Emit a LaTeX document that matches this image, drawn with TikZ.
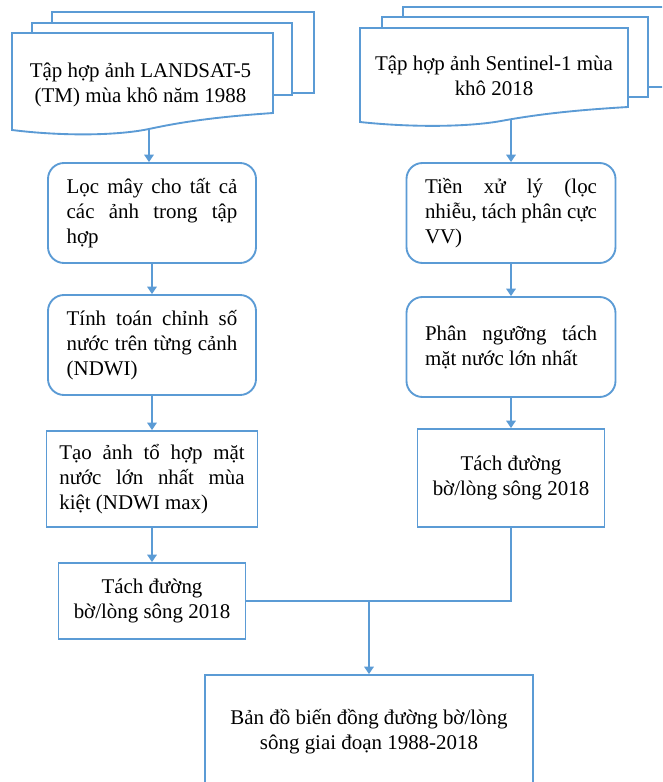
\documentclass[tikz,border=0pt]{standalone}
\usepackage{fontspec}
\setmainfont{Liberation Serif}
\usetikzlibrary{arrows.meta}
\definecolor{bl}{HTML}{5B9BD5}
\newcommand{\jl}[2]{\makebox[#1][s]{#2}}
\begin{document}
\begin{tikzpicture}[x=0.75pt,y=-0.75pt,
  ln/.style={draw=bl,line width=1.4pt},
  arr/.style={ln,-{Triangle[length=5.5pt,width=7pt]}},
  txt/.style={font=\fontsize{15.7}{18.8}\selectfont},
  rbox/.style={ln,txt,rounded corners=12pt,inner sep=0pt,align=left},
  sbox/.style={ln,txt,inner sep=0pt}
]
\useasboundingbox (0,0) rectangle (662,782);
\clip (0,0) rectangle (662,782);
\fill[white] (0,0) rectangle (662,782);

% left multidocument
\draw[ln] (52,23) -- (52,12) -- (314,12) -- (314,93) -- (292,93);
\draw[ln] (32,33) -- (32,23) -- (292,23) -- (292,95) -- (273,95);
\draw[ln] (12,130) -- (12,33) -- (273,33) -- (273,113)
  .. controls (230,116) and (190,120) .. (149,129)
  .. controls (115,136) and (60,136) .. (12,130) -- cycle;
\coordinate (d1b) at (149,129);
\node[txt,align=center] (d1) at (140.5,85) {Tập hợp ảnh LANDSAT-5\\(TM) mùa khô năm 1988};

% right multidocument
\draw[ln] (403,17) -- (403,7) -- (680,7) -- (680,87) -- (648,87);
\draw[ln] (382,28) -- (382,17) -- (648,17) -- (648,97) -- (628,97);
\draw[ln] (360,122) -- (360,28) -- (628,28) -- (628,107)
  .. controls (584,109.6) and (543,113.2) .. (501,121)
  .. controls (466,127.3) and (409,127.3) .. (360,122) -- cycle;
\coordinate (d2b) at (511,119.5);
\node[txt,align=center] (d2) at (494,75.5) {Tập hợp ảnh Sentinel-1 mùa\\khô 2018};

% left column
\node[rbox,minimum width=156pt,minimum height=75pt] (l1) at (152,213)
  {\jl{128pt}{Lọc mây cho tất cả}\\\jl{128pt}{các ảnh trong tập}\\hợp};
\node[rbox,minimum width=156pt,minimum height=75pt] (l2) at (152,345)
  {\jl{128pt}{Tính toán chỉnh số}\\\jl{128pt}{nước trên từng cảnh}\\(NDWI)};
\node[sbox,align=left,minimum width=158.25pt,minimum height=72pt] (l3) at (152,479)
  {\jl{139pt}{Tạo ảnh tổ hợp mặt}\\\jl{139pt}{nước lớn nhất mùa}\\kiệt (NDWI max)};
\node[sbox,align=center,minimum width=140.25pt,minimum height=57pt] (l4) at (152,601)
  {Tách đường\\bờ/lòng sông 2018};

% right column
\node[rbox,minimum width=156.75pt,minimum height=75pt] (r1) at (511,213)
  {\jl{129pt}{Tiền xử lý (lọc}\\\jl{129pt}{nhiễu, tách phân cực}\\VV)};
\node[rbox,minimum width=156.75pt,minimum height=75pt] (r2) at (511,347)
  {\jl{129pt}{Phân ngưỡng tách}\\mặt nước lớn nhất};
\node[sbox,align=center,minimum width=140.25pt,minimum height=73.5pt] (r3) at (511,478)
  {Tách đường\\bờ/lòng sông 2018};

% final
\node[sbox,align=center,minimum width=246pt,minimum height=85.5pt] (fin) at (369,732)
  {Bản đồ biến đồng đường bờ/lòng\\sông giai đoạn 1988-2018};

% connectors
\draw[arr] (d1b) -- (d1b |- l1.north);
\draw[arr] (l1.south) -- (l2.north);
\draw[arr] (l2.south) -- (l2.south |- l3.north);
\draw[arr] (l3.south) -- (l3.south |- l4.north);
\draw[arr] (d2b) -- (d2b |- r1.north);
\draw[arr] (r1.south) -- (r2.north);
\draw[arr] (r2.south) -- (r2.south |- r3.north);
\draw[ln] (r3.south) |- (l4.east);
\coordinate (j) at (fin.north |- l4.east);
\draw[arr] (j) -- (fin.north);
\end{tikzpicture}
\end{document}
